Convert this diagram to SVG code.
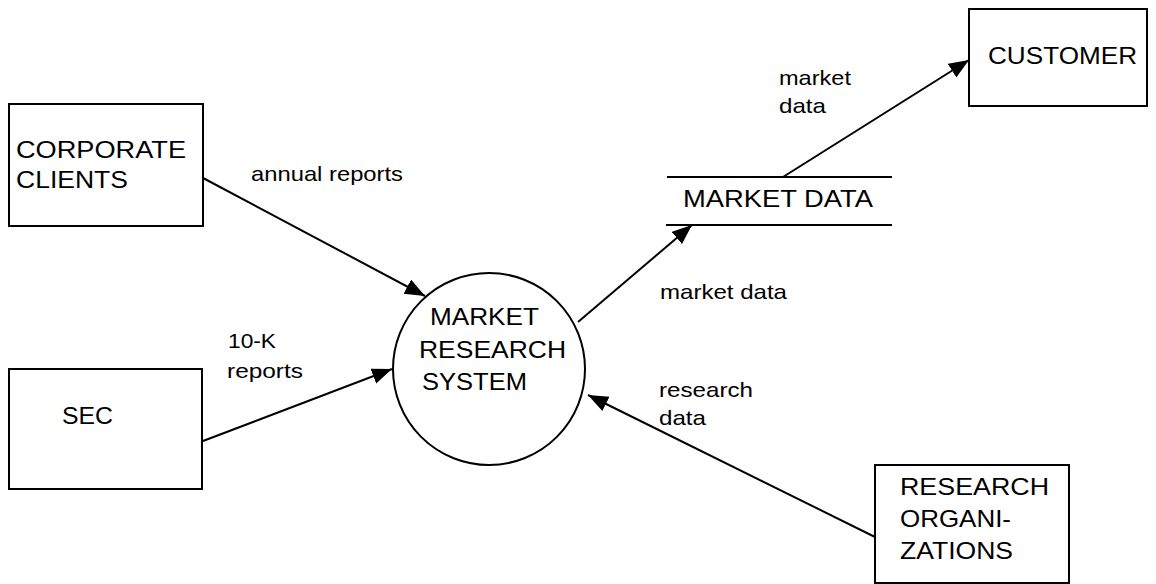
<svg xmlns="http://www.w3.org/2000/svg" width="1156" height="584" viewBox="0 0 1156 584">
<style>
.box{fill:#fff;stroke:#000;stroke-width:2}
.ln{stroke:#000;stroke-width:2;fill:none}
.cap{font-family:"Liberation Sans",Arial,sans-serif;font-size:24px;fill:#000}
.lab{font-family:"Liberation Sans",Arial,sans-serif;font-size:21px;fill:#000}
</style>
<defs>
<marker id="ah" markerUnits="userSpaceOnUse" markerWidth="22" markerHeight="18" refX="20" refY="8" orient="auto">
<path d="M0,0 L20,8 L0,16 Z" fill="#000"/>
</marker>
</defs>
<rect width="1156" height="584" fill="#fff"/>
<g id="connectors">
<line class="ln" x1="203" y1="178" x2="425" y2="296" marker-end="url(#ah)"/>
<line class="ln" x1="203" y1="441" x2="392" y2="369" marker-end="url(#ah)"/>
<line class="ln" x1="578" y1="322" x2="692" y2="225" marker-end="url(#ah)"/>
<line class="ln" x1="783" y1="177" x2="969" y2="60" marker-end="url(#ah)"/>
<line class="ln" x1="875" y1="537" x2="588" y2="395" marker-end="url(#ah)"/>
<text class="lab" x="251" y="181" textLength="152" lengthAdjust="spacingAndGlyphs">annual reports</text>
<text class="lab" x="228" y="348" textLength="48" lengthAdjust="spacingAndGlyphs">10-K</text>
<text class="lab" x="227" y="378" textLength="76" lengthAdjust="spacingAndGlyphs">reports</text>
<text class="lab" x="660" y="299" textLength="127" lengthAdjust="spacingAndGlyphs">market data</text>
<text class="lab" x="779" y="85" textLength="72" lengthAdjust="spacingAndGlyphs">market</text>
<text class="lab" x="779" y="113" textLength="47" lengthAdjust="spacingAndGlyphs">data</text>
<text class="lab" x="659" y="397" textLength="94" lengthAdjust="spacingAndGlyphs">research</text>
<text class="lab" x="659" y="425" textLength="47" lengthAdjust="spacingAndGlyphs">data</text>
</g>
<g id="corporate-clients">
<rect class="box" x="9" y="104" width="194" height="122"/>
<text class="cap" x="16" y="158" textLength="170" lengthAdjust="spacingAndGlyphs">CORPORATE</text>
<text class="cap" x="16" y="188" textLength="112" lengthAdjust="spacingAndGlyphs">CLIENTS</text>
</g>
<g id="sec">
<rect class="box" x="9" y="369" width="193" height="120"/>
<text class="cap" x="62" y="424" textLength="51" lengthAdjust="spacingAndGlyphs">SEC</text>
</g>
<g id="market-research-system">
<circle class="box" cx="489" cy="369" r="96"/>
<text class="cap" x="430" y="325" textLength="109" lengthAdjust="spacingAndGlyphs">MARKET</text>
<text class="cap" x="419" y="358" textLength="147" lengthAdjust="spacingAndGlyphs">RESEARCH</text>
<text class="cap" x="422" y="390" textLength="105" lengthAdjust="spacingAndGlyphs">SYSTEM</text>
</g>
<g id="market-data-store">
<line class="ln" x1="667" y1="177" x2="892" y2="177"/>
<line class="ln" x1="666" y1="225" x2="892" y2="225"/>
<text class="cap" x="683" y="207" textLength="190" lengthAdjust="spacingAndGlyphs">MARKET DATA</text>
</g>
<g id="customer">
<rect class="box" x="969" y="9" width="178" height="97"/>
<text class="cap" x="988" y="64" textLength="149" lengthAdjust="spacingAndGlyphs">CUSTOMER</text>
</g>
<g id="research-organizations">
<rect class="box" x="875" y="465" width="194" height="118"/>
<text class="cap" x="900" y="495" textLength="149" lengthAdjust="spacingAndGlyphs">RESEARCH</text>
<text class="cap" x="900" y="527" textLength="111" lengthAdjust="spacingAndGlyphs">ORGANI-</text>
<text class="cap" x="900" y="559" textLength="113" lengthAdjust="spacingAndGlyphs">ZATIONS</text>
</g>
</svg>
